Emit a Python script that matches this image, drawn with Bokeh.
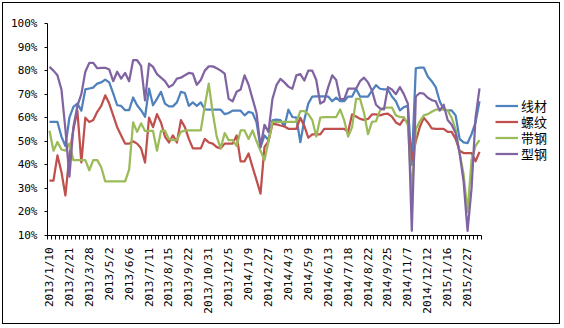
import math
from bokeh.plotting import figure
from bokeh.models import Range1d, FixedTicker, PrintfTickFormatter, Legend, LegendItem
from bokeh.embed import file_html
from bokeh.resources import INLINE

# tick labels (every 5th weekly category)
date_labels = ["2013/1/10", "2013/2/21", "2013/3/28", "2013/5/2", "2013/6/6", "2013/7/11",
               "2013/8/15", "2013/9/22", "2013/10/31", "2013/12/5", "2014/1/9", "2014/2/27",
               "2014/4/3", "2014/5/9", "2014/6/13", "2014/7/18", "2014/8/22", "2014/9/25",
               "2014/11/7", "2014/12/12", "2015/1/16", "2015/2/27"]
label_step = 5

series_names = ["线材", "螺纹", "带钢", "型钢"]

wire = [58.2, 58.2, 58.2, 52, 48, 60, 64.6, 66, 63, 72,
        72.4, 72.8, 74.5, 75, 76.2, 75, 70.3, 65.3, 65, 63.2,
        63.2, 68.6, 65.3, 63.2, 60.4, 72.4, 65.3, 68, 71, 66,
        64.8, 64.8, 66.5, 71, 70.5, 65, 66.5, 65, 66.5, 63.5,
        63.4, 63.4, 63.4, 63.4, 61.5, 62, 63, 63, 63, 61,
        62.5, 62, 58, 47.5, 52.5, 50.5, 58.9, 59.2, 59, 56.3,
        63.4, 60.3, 60, 49.6, 59, 66, 69, 69.1, 69.1, 69.1,
        69, 67, 68.5, 67, 67, 69, 69, 72.3, 69, 69,
        69, 71.5, 73.8, 72.3, 72, 72, 69, 67, 63.1, 64.5,
        65, 40, 81, 81.3, 81.3, 77.5, 75.5, 73, 67, 63.5,
        63.1, 63.1, 61, 51, 49.5, 49.2, 53, 58, 67]

rebar = [33.3, 33.3, 44, 37, 27, 44, 55, 63, 41, 60,
         58.2, 59, 62.5, 65, 69.5, 66, 61, 56, 52.5, 49,
         49, 50, 49, 47, 41, 60, 56, 61.5, 58, 52,
         49.5, 52.5, 49.5, 59, 56, 51, 47, 47, 47, 51,
         49.5, 49, 47.5, 47, 49, 49, 49, 52.5, 41.5, 41.5,
         44.8, 39, 33.5, 27.8, 47.6, 50, 57.4, 57.2, 56.7, 56.3,
         55.3, 55.3, 55.3, 60, 56.5, 51.5, 52.9, 52.9, 52.9, 55.3,
         55.3, 55.3, 55.3, 55.3, 55.3, 54, 61.4, 60.5, 59.5, 59.1,
         59.5, 61.4, 61.4, 61, 61.5, 61.7, 60.5, 58, 57, 59.5,
         58, 42, 50, 56, 60, 58, 55.5, 55.3, 55.3, 55.3,
         54, 54, 51, 46, 45, 45, 45, 41.5, 45.5]

strip = [54.5, 46, 49.7, 46.5, 46, 49, 42, 42, 42, 42,
         37.7, 42, 42, 39, 33, 33, 33, 33, 33, 33,
         38, 58, 54, 57.6, 54.4, 54.4, 54.4, 46, 54.4, 54.5,
         51, 50.5, 50.5, 54, 54.6, 54.6, 54.6, 54.6, 54.6, 65,
         74.5, 62, 52, 47, 53.5, 50.5, 50.5, 48, 54.6, 54.6,
         51, 54.6, 50, 46, 42, 50, 58.2, 58.2, 58.2, 58.2,
         58.2, 58.2, 58.2, 62.8, 62.8, 61.5, 59, 52, 60, 60.3,
         60.3, 60.3, 60.3, 63.5, 59, 52, 56, 68, 68, 62,
         53, 58.2, 58.5, 63, 64.3, 64.3, 64.3, 61, 60.3, 60.3,
         57, 28, 55, 58.5, 61, 61.5, 62.5, 63.4, 63.6, 63.4,
         63.2, 60, 55, 45, 36, 20, 42, 48, 50.5]

section = [81.6, 80, 78, 72, 55, 35, 56, 65, 70, 79.5,
           83.3, 83.3, 81, 81.2, 81.2, 80.5, 75.5, 79.5, 76.6, 79,
           75.5, 84.4, 84.4, 82, 67.4, 83, 81.6, 78.5, 77, 75.5,
           73, 74, 76.6, 77, 78, 79, 78.7, 74, 76, 80,
           81.8, 81.8, 81, 80, 78.7, 68, 67, 71, 72, 78,
           74, 68, 62, 47.5, 57, 54, 68, 73.8, 76.5, 75,
           73.2, 72.3, 78, 78.5, 75.8, 80, 80, 76, 66, 67,
           73, 78, 76, 68, 67.8, 72.3, 72.3, 72.3, 75.5, 77,
           75, 71.5, 65.5, 64, 63.5, 73, 72, 70, 73, 70,
           66, 12, 69, 70.5, 70.2, 68.5, 67.5, 67, 63, 65.5,
           59, 57, 53.5, 45, 33, 12, 30, 60, 72.5]

colors = ["#4F81BD", "#C0504D", "#9BBB59", "#8064A2"]

n = len(wire)
idx = list(range(n))

# layout: the axis occupies 434 px; the frame extends further right to host the legend
axis_px = 434.0
frame_px = 508.0
x_end = -0.5 + n * frame_px / axis_px

p = figure(width=558, height=322, output_backend="svg", toolbar_location=None,
           x_range=Range1d(-0.5, x_end), y_range=Range1d(10, 100),
           min_border_left=44, min_border_right=6, min_border_top=20, min_border_bottom=90)
p.styles = {"margin": "2px", "border": "1px solid black"}
p.grid.visible = False
p.outline_line_color = None
p.background_fill_color = "white"
p.border_fill_color = "white"

renderers = []
for vals, c in zip([wire, rebar, strip, section], colors):
    r = p.line(idx, vals, line_color=c, line_width=2.25, line_join="round")
    renderers.append(r)

tick_font = "DejaVu Sans Mono"

xa = p.xaxis[0]
xa.bounds = (-0.5, n - 0.5)
major = [i * label_step for i in range(len(date_labels))]
xa.ticker = FixedTicker(ticks=major, minor_ticks=[i - 0.5 for i in range(n + 1)])
xa.major_label_overrides = {float(t): lab for t, lab in zip(major, date_labels)}
xa.major_label_orientation = math.pi / 2
xa.major_tick_out = 0
xa.major_tick_in = 0
xa.minor_tick_out = 4
xa.minor_tick_in = 0
xa.major_label_standoff = 8
xa.major_label_text_font = tick_font
xa.major_label_text_font_size = "11px"
xa.major_label_text_color = "black"
xa.axis_line_color = "black"

ya = p.yaxis[0]
ya.ticker = FixedTicker(ticks=list(range(10, 101, 10)), minor_ticks=[])
ya.formatter = PrintfTickFormatter(format="%d%%")
ya.major_tick_out = 3
ya.major_tick_in = 0
ya.minor_tick_out = 0
ya.minor_tick_in = 0
ya.major_label_standoff = 7
ya.major_label_text_font = tick_font
ya.major_label_text_font_size = "11px"
ya.major_label_text_color = "black"
ya.axis_line_color = "black"

# one legend per entry so that row spacing matches the reference
row_bottoms = [119.8, 103.8, 87.8, 71.8]
for nm, r, yb in zip(series_names, renderers, row_bottoms):
    lg = Legend(items=[LegendItem(label=nm, renderers=[r])], location=(448, yb))
    lg.glyph_width = 23
    lg.glyph_height = 15
    lg.label_height = 15
    lg.padding = 0
    lg.margin = 0
    lg.label_standoff = 3
    lg.label_text_font = "Noto Sans CJK SC"
    lg.label_text_font_size = "13px"
    lg.label_text_color = "black"
    lg.border_line_alpha = 0
    lg.background_fill_alpha = 0
    p.add_layout(lg)

open("out.html", "w").write(file_html(p, INLINE))
